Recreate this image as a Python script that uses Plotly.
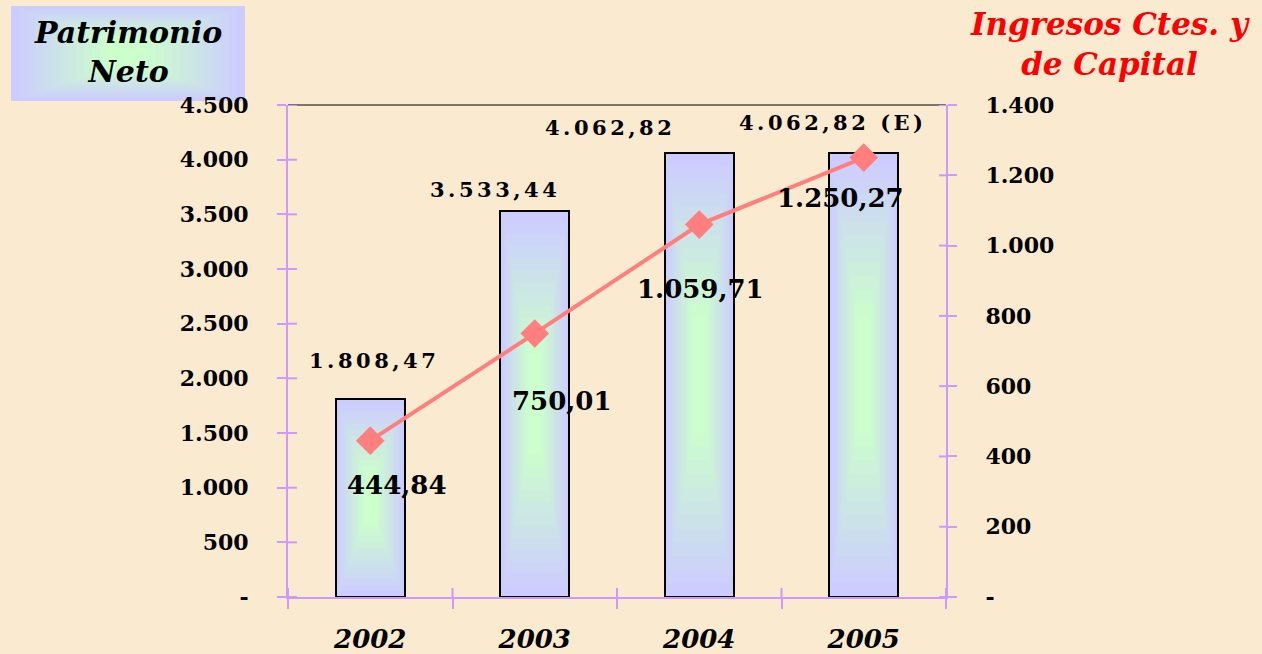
import plotly.graph_objects as go

# ---------------- data ----------------
years = ["2002", "2003", "2004", "2005"]
patrimonio = [1808.47, 3533.44, 4062.82, 4062.82]
ingresos = [444.84, 750.01, 1059.71, 1250.27]
bar_labels = ["1.808,47", "3.533,44", "4.062,82", "4.062,82 (E)"]
line_labels = ["444,84", "750,01", "1.059,71", "1.250,27"]
left_tickvals = [0, 500, 1000, 1500, 2000, 2500, 3000, 3500, 4000, 4500]
left_ticktext = ["-", "500", "1.000", "1.500", "2.000", "2.500", "3.000", "3.500", "4.000", "4.500"]
right_tickvals = [0, 200, 400, 600, 800, 1000, 1200, 1400]
right_ticktext = ["-", "200", "400", "600", "800", "1.000", "1.200", "1.400"]

# ---------------- layout geometry ----------------
W, H = 1262, 654
L, R, T, B = 288, 946, 105, 597
PW, PH = R - L, B - T
def px2x(px):
    return (px - L) / PW
def py2y(py):
    return (B - py) / PH

BG = "#F9EAD0"
LAV = (204, 204, 255)
GRN = (204, 255, 204)
AXC = "#CC99FF"
LINEC = "#FF7F7F"
FONT = "DejaVu Serif"

def lerp(c1, c2, t):
    return "rgb(%d,%d,%d)" % tuple(round(a + (b - a) * t) for a, b in zip(c1, c2))

fig = go.Figure()

# gradient bars (layered)
BW = 0.42
n = 14
for k in range(n):
    t = k / (n - 1)
    s = 1 - 0.88 * t
    hfrac = 1 - 0.8 * t
    fig.add_trace(go.Bar(
        x=years,
        y=[v * hfrac for v in patrimonio],
        base=[v * (1 - hfrac) / 2 for v in patrimonio],
        width=BW * s,
        marker=dict(color=lerp(LAV, GRN, min(1, t * 1.1)), line=dict(width=0)),
        hoverinfo="skip", showlegend=False,
    ))
# outline
fig.add_trace(go.Bar(
    x=years, y=patrimonio, width=BW,
    marker=dict(color="rgba(0,0,0,0)", line=dict(color="black", width=2)),
    showlegend=False,
))
# line on secondary axis
fig.add_trace(go.Scatter(
    x=years, y=ingresos, yaxis="y2", mode="lines+markers",
    line=dict(color=LINEC, width=4),
    marker=dict(symbol="diamond", size=22, color=LINEC),
    showlegend=False,
))

# ---------------- annotations ----------------
ann = []
sp = "\u2006"
bar_shift = [(2, 39), (-41, 21), (-91, 25), (-33, 30)]
for i, (v, lab, (dx, dy)) in enumerate(zip(patrimonio, bar_labels, bar_shift)):
    txt = sp.join(list(lab))
    ann.append(dict(x=i, y=v, xref="x", yref="y", text="<b>%s</b>" % txt,
                    showarrow=False, xanchor="center", yanchor="middle",
                    xshift=dx, yshift=dy, font=dict(family=FONT, size=21, color="black")))
line_shift = [(27, -44), (27, -68), (1, -64), (-23, -40)]
for i, (v, lab, (dx, dy)) in enumerate(zip(ingresos, line_labels, line_shift)):
    ann.append(dict(x=i, y=v, xref="x", yref="y2", text="<b>%s</b>" % lab,
                    showarrow=False, xanchor="center", yanchor="middle",
                    xshift=dx, yshift=dy, font=dict(family=FONT, size=26, color="black")))
# titles
ann.append(dict(x=px2x(128), y=py2y(52), xref="paper", yref="paper",
                text="<b><i>Patrimonio<br>Neto</i></b>", showarrow=False,
                xanchor="center", yanchor="middle", align="center",
                font=dict(family=FONT, size=30, color="black")))
ann.append(dict(x=px2x(1110), y=py2y(44), xref="paper", yref="paper",
                text="<b><i>Ingresos Ctes. y<br>de Capital</i></b>", showarrow=False,
                xanchor="center", yanchor="middle", align="center",
                font=dict(family=FONT, size=31, color="#FF0000")))

# ---------------- shapes ----------------
shapes = []
# gradient title box
bx0, bx1, by0, by1 = 11, 245, 6, 101
cx, cy = (bx0 + bx1) / 2, (by0 + by1) / 2
nb = 14
for k in range(nb):
    t = k / (nb - 1)
    s = 1 - 0.9 * t
    hw, hh = (bx1 - bx0) / 2 * s, (by1 - by0) / 2 * (1 - 0.75 * t)
    shapes.append(dict(type="rect", xref="paper", yref="paper", layer="below",
                       x0=px2x(cx - hw), x1=px2x(cx + hw),
                       y0=py2y(cy + hh), y1=py2y(cy - hh),
                       fillcolor=lerp(LAV, GRN, min(1, t * 1.1)), line=dict(width=0)))
# top border line
shapes.append(dict(type="line", xref="paper", yref="paper", x0=0, x1=1, y0=1, y1=1,
                   line=dict(color="black", width=1.2)))
# inside halves of crossing ticks
for v in left_tickvals:
    shapes.append(dict(type="line", xref="paper", xsizemode="pixel", xanchor=0,
                       x0=0, x1=9, yref="y", y0=v, y1=v, line=dict(color=AXC, width=2)))
for v in right_tickvals:
    shapes.append(dict(type="line", xref="paper", xsizemode="pixel", xanchor=1,
                       x0=-7, x1=0, yref="y2", y0=v, y1=v, line=dict(color=AXC, width=2)))
for i in range(len(years) + 1):
    shapes.append(dict(type="line", xref="x", x0=i - 0.5, x1=i - 0.5,
                       yref="paper", ysizemode="pixel", yanchor=0, y0=0, y1=9,
                       line=dict(color=AXC, width=2)))

fig.update_layout(
    width=W, height=H,
    margin=dict(l=L, r=W - R, t=T, b=H - B, pad=0, autoexpand=False),
    paper_bgcolor=BG, plot_bgcolor=BG,
    barmode="overlay", bargap=0,
    showlegend=False,
    font=dict(family=FONT, color="black"),
    xaxis=dict(type="category", range=[-0.5, 3.5], showgrid=False, zeroline=False,
               showline=True, linecolor=AXC, linewidth=2, automargin=False,
               ticks="outside", ticklen=10, tickwidth=2, tickcolor=AXC,
               tickson="boundaries", ticklabelstandoff=18,
               tickfont=dict(family=FONT, size=26, color="black", weight="bold", style="italic")),
    yaxis=dict(range=[0, 4500], showgrid=False, zeroline=False, automargin=False,
               showline=True, linecolor=AXC, linewidth=2,
               tickmode="array", tickvals=left_tickvals, ticktext=left_ticktext,
               ticks="outside", ticklen=9, tickwidth=2, tickcolor=AXC,
               ticklabelstandoff=24,
               tickfont=dict(family=FONT, size=22, color="black", weight="bold")),
    yaxis2=dict(range=[0, 1400], overlaying="y", side="right", showgrid=False, zeroline=False,
                showline=True, linecolor=AXC, linewidth=2, automargin=False,
                tickmode="array", tickvals=right_tickvals, ticktext=right_ticktext,
                ticks="outside", ticklen=9, tickwidth=2, tickcolor=AXC,
                ticklabelstandoff=24,
                tickfont=dict(family=FONT, size=22, color="black", weight="bold")),
    annotations=ann,
    shapes=shapes,
)

fig.write_html("out.html", config={"displayModeBar": False},
               post_script="document.body.style.margin='0';")
